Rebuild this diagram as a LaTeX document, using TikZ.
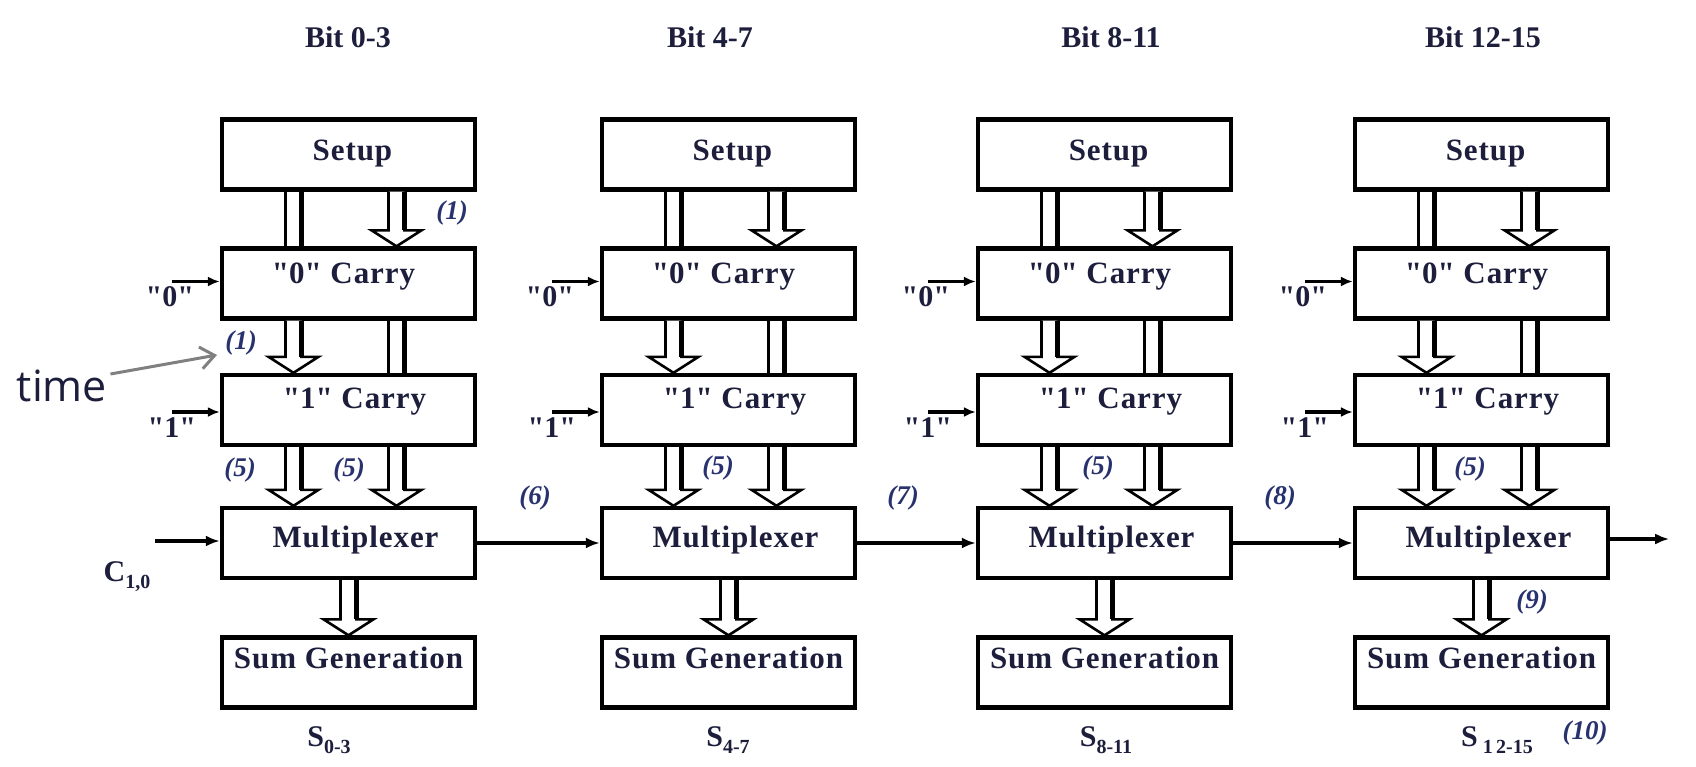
\documentclass[tikz,border=0pt]{standalone}
\usepackage{fontspec}
\setmainfont{Liberation Serif}
\newfontfamily\timefont{Open Sans}
\newfontfamily\boxfont[LetterSpace=3]{Liberation Serif}
\usetikzlibrary{calc,arrows.meta}
\definecolor{ink}{RGB}{28,30,60}
\definecolor{lab}{RGB}{40,50,110}
\newcommand\dq{\textquotedbl}
\newcommand\boxtext[3]{\makebox[0pt]{\hspace*{#1}\raisebox{#2}[0pt][0pt]{#3}}}
\newcommand\subtxt[1]{{\fontsize{10}{12}\selectfont\raisebox{-3.5pt}{#1}}}
% hollow arrow with head: #1 upper node, #2 lower node, #3 x offset
\newcommand\hollowhead[3]{%
  \coordinate (hs) at ($(#1.south)+(#3,0)$);
  \coordinate (he) at (hs |- #2.north);
  \filldraw[fill=white, thinl, line join=miter]
    ($(hs)+(-8,0)$) -- ($(he)+(-8,-16)$) -- ($(he)+(-25,-16)$) -- (he)
    -- ($(he)+(25,-16)$) -- ($(he)+(8,-16)$) -- ($(hs)+(8,0)$);
  \draw[thickl] ($(hs)+(8,0)$) -- ($(he)+(8,-16)$);
}
% hollow shaft without head
\newcommand\hollowbar[3]{%
  \coordinate (hs) at ($(#1.south)+(#3,0)$);
  \coordinate (he) at (hs |- #2.north);
  \draw[thinl] ($(hs)+(-8,0)$) -- ($(he)+(-8,0)$);
  \draw[thickl] ($(hs)+(8,0)$) -- ($(he)+(8,0)$);
}
\begin{document}
\begin{tikzpicture}[x=0.5pt,y=-0.5pt,
  box/.style={draw=black, line width=2.2pt, fill=white, minimum width=126.5pt,
    minimum height=35pt, inner sep=0pt, font=\boxfont\fontsize{15.5}{18}\selectfont\bfseries, text=ink},
  hdr/.style={font=\fontsize{15}{18}\selectfont\bfseries, text=ink, inner sep=0pt},
  lbl/.style={font=\fontsize{13.5}{16}\selectfont\bfseries\itshape, text=lab, inner sep=0pt},
  qt/.style={font=\fontsize{15}{18}\selectfont\bfseries, text=ink, inner sep=0pt},
  sig/.style={line width=1.8pt, -{Latex[length=7pt,width=5.5pt]}},
  insig/.style={line width=1.6pt, -{Latex[length=6pt,width=5pt]}},
  thinl/.style={line width=1.3pt},
  thickl/.style={line width=2.8pt}]
\useasboundingbox (0,0) rectangle (1696,766);
\fill[white] (0,0) rectangle (1696,766);

% headers
\node[hdr] (b1) at (348,37) {Bit 0-3};
\node[hdr] (b2) at (710,37) {Bit 4-7};
\node[hdr] (b3) at (1111,37) {Bit 8-11};
\node[hdr] (b4) at (1483,37) {Bit 12-15};

\foreach \i/\cx in {1/348.5,2/728.5,3/1104.5,4/1481.5}{
  \node[box] (su\i) at (\cx,154.5) {\boxtext{4pt}{-2.75pt}{Setup}};
  \node[box] (cz\i) at (\cx,283.5) {\boxtext{-5pt}{0pt}{\dq0\dq{} Carry}};
  \node[box] (co\i) at (\cx,410) {\boxtext{6pt}{1pt}{\dq1\dq{} Carry}};
  \node[box] (mx\i) at (\cx,543) {\boxtext{7pt}{-2pt}{Multiplexer}};
  \node[box] (sg\i) at (\cx,672.5) {\boxtext{0pt}{2.25pt}{Sum Generation}};
  % hollow connectors
  \hollowbar{su\i}{cz\i}{-55}
  \hollowhead{su\i}{cz\i}{48}
  \hollowhead{cz\i}{co\i}{-55}
  \hollowbar{cz\i}{co\i}{48}
  \hollowhead{co\i}{mx\i}{-55}
  \hollowhead{co\i}{mx\i}{48}
  \hollowhead{mx\i}{sg\i}{0}
  % "0" and "1" inputs
  \coordinate (z\i) at ($(cz\i.west)+(-48,-2)$);
  \draw[insig] (z\i) -- (z\i -| cz\i.west);
  \node[qt] (zl\i) at ($(cz\i.west)+(-50,13.5)$) {\dq0\dq};
  \coordinate (o\i) at ($(co\i.west)+(-48,2)$);
  \draw[insig] (o\i) -- (o\i -| co\i.west);
  \node[qt] (ol\i) at ($(co\i.west)+(-48,18)$) {\dq1\dq};
}

% carry chain
\coordinate (cin) at ($(mx1.west)+(-65,-2)$);
\draw[sig] (cin) -- (cin -| mx1.west);
\node[qt] (c10) at (127,577) {C\subtxt{1,0}};
\draw[sig] (mx1.east) -- (mx2.west);
\draw[sig] (mx2.east) -- (mx3.west);
\draw[sig] (mx3.east) -- (mx4.west);
\coordinate (cout) at ($(mx4.east)+(59,-4)$);
\draw[sig] (mx4.east |- cout) -- (cout);

% sum outputs
\node[qt] (s1) at (329,740) {S\subtxt{0-3}};
\node[qt] (s2) at (728,740) {S\subtxt{4-7}};
\node[qt] (s3) at (1106,740) {S\subtxt{8-11}};
\node[qt] (s4) at (1497,740) {S\,\subtxt{1\,2-15}};

% timing labels
\node[lbl] (t1a) at (452,213) {(1)};
\node[lbl] (t1b) at (241,343) {(1)};
\node[lbl] (t5a) at (240,470) {(5)};
\node[lbl] (t5b) at (349,470) {(5)};
\node[lbl] (t5c) at (718,468) {(5)};
\node[lbl] (t5d) at (1098,468) {(5)};
\node[lbl] (t5e) at (1470,469) {(5)};
\node[lbl] (t6) at (535,498) {(6)};
\node[lbl] (t7) at (903,498) {(7)};
\node[lbl] (t8) at (1280,498) {(8)};
\node[lbl] (t9) at (1532,602) {(9)};
\node[lbl] (t10) at (1585,733) {(10)};

% time annotation
\node[font=\timefont\fontsize{21.5}{24}\selectfont, text=ink, inner sep=0pt] (time) at (62,386) {time};
\coordinate (tarr) at (217,355);
\draw[gray, line width=1.5pt, -{Straight Barb[length=7pt,width=11pt]}] ($(time.east)+(3,-12)$) -- (tarr);
\end{tikzpicture}
\end{document}
